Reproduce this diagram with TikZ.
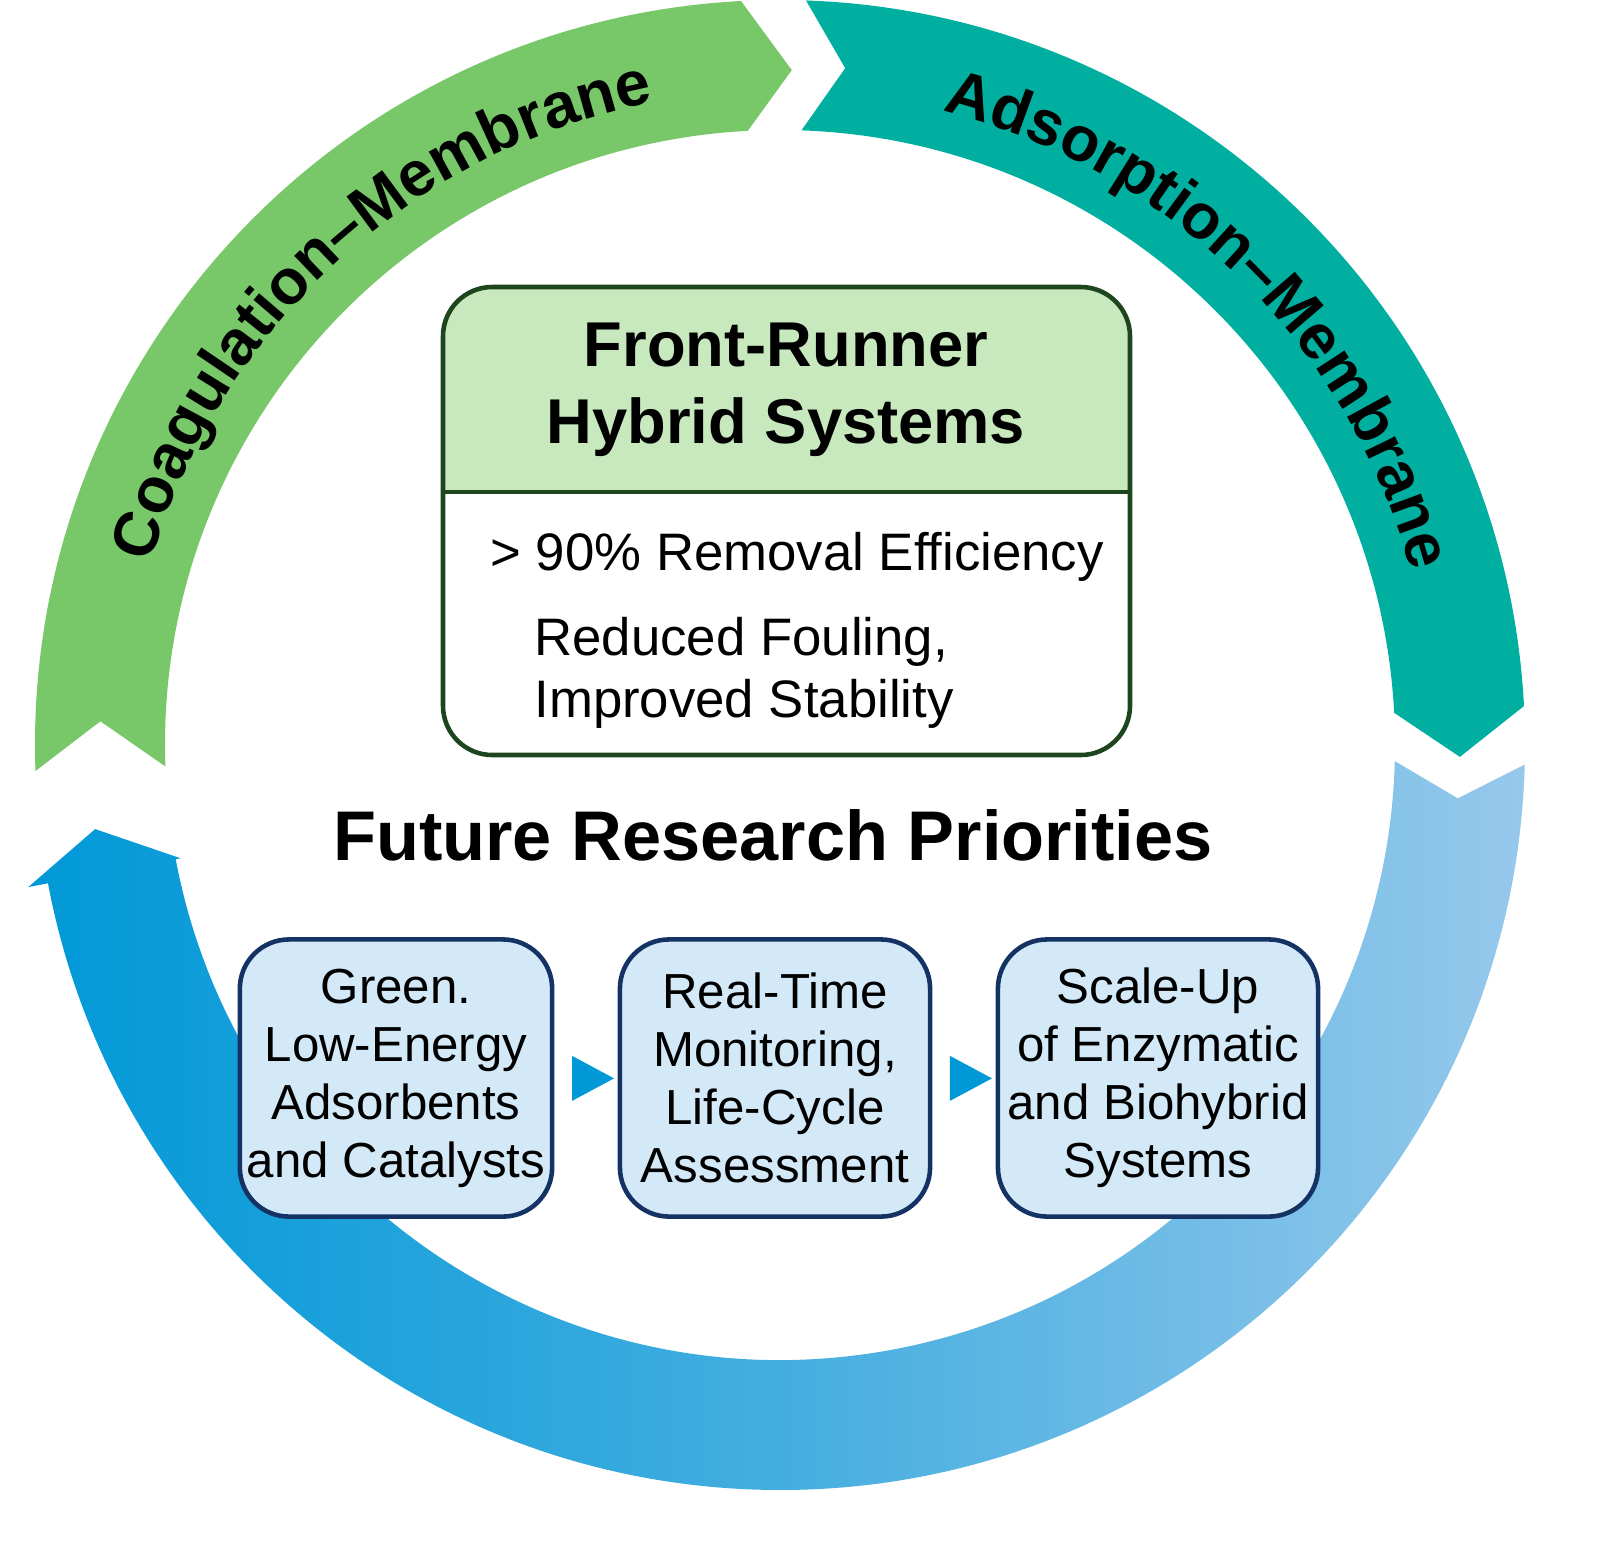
\documentclass[tikz,border=0pt]{standalone}
\usepackage{fontspec}
\setmainfont{Liberation Sans}
\usetikzlibrary{positioning,decorations.text}
\definecolor{coagreen}{RGB}{120,200,105}
\definecolor{adsteal}{RGB}{0,175,160}
\definecolor{blueD}{RGB}{0,152,215}
\definecolor{blueL}{RGB}{150,200,235}
\definecolor{hdrgreen}{RGB}{200,232,190}
\definecolor{boxgreen}{RGB}{30,70,30}
\definecolor{prioblue}{RGB}{212,233,248}
\definecolor{navy}{RGB}{20,50,100}
\tikzset{
  ringtext/.style={decorate,decoration={text along path,text align=center,
    text={|\fontsize{18}{18}\bfseries\color{black}|#1}}},
  prio/.style={draw=navy,line width=1.3pt,fill=prioblue,rounded corners=14pt,
    minimum width=3.05cm,minimum height=2.77cm,align=center,
    font=\fontsize{14}{16.5}\selectfont,inner sep=2pt},
  steparrow/.style={fill=blueD},
}
\begin{document}
\begin{tikzpicture}[x=0.01cm,y=0.01cm]
\useasboundingbox (0,0) rectangle (1612,-1542);
% ring
\begin{scope}[shift={(780,-745)}]
\fill[coagreen] (182:745) arc[start angle=182,end angle=93,radius=745] -- (89:675)
  -- (93:615) arc[start angle=93,end angle=182,radius=615] -- (178:680) -- cycle;
\fill[adsteal] (88:745) arc[start angle=88,end angle=3,radius=745] -- (-1:680)
  -- (3:615) arc[start angle=3,end angle=88,radius=615] -- (84.5:680) -- cycle;
\shade[left color=blueD,right color=blueL,middle color=blueD!55!blueL] (-1.5:745) arc[start angle=-1.5,end angle=-169.3,radius=745]
  -- (-169.3:765) -- (-173:690) -- (-169.3:610)
  -- (-169.3:615) arc[start angle=-169.3,end angle=-1.5,radius=615] -- (-4.5:680) -- cycle;
\path[ringtext={Coagulation–Membrane}] (168:655) arc[start angle=168,end angle=97,radius=655];
\path[ringtext={Adsorption–Membrane}] (80:655) arc[start angle=80,end angle=11,radius=655];
\end{scope}
% front-runner box
\begin{scope}
\clip[rounded corners=14pt] (443,-287) rectangle (1130,-755);
\fill[hdrgreen] (443,-287) rectangle (1130,-492);
\end{scope}
\draw[boxgreen,line width=1.3pt,rounded corners=14pt] (443,-287) rectangle (1130,-755);
\draw[boxgreen,line width=1.3pt] (443,-492) -- (1130,-492);
\node[align=center,font=\fontsize{18}{22}\bfseries] (hybrid) at (786,-390) {Front-Runner\\Hybrid\ Systems};
\node[anchor=west,font=\fontsize{15}{18}\selectfont] (eff) at (478,-557) {> 90\% Removal Efficiency};
\node[anchor=north west,align=left,font=\fontsize{15}{17.5}\selectfont] (foul) at (522,-605) {Reduced Fouling,\\Improved Stability};
% priorities
\node[font=\fontsize{20}{24}\bfseries] (future) at (773,-835) {Future Research Priorities};
\node[prio] (green) at (396,-1078) {Green.\\Low-Energy\\Adsorbents\\and Catalysts};
\node[prio,minimum width=3.1cm] (monitor) at (775,-1078) {Real-Time\\Monitoring,\\Life-Cycle\\Assessment};
\node[prio,minimum width=3.2cm] (scale) at (1158,-1078) {Scale-Up\\of Enzymatic\\and Biohybrid\\Systems};
\fill[steparrow] ([xshift=5pt,yshift=-6.5pt]green.east) -- ++(0,45) -- ++(42,-22.5) -- cycle;
\fill[steparrow] ([xshift=5pt,yshift=-6.5pt]monitor.east) -- ++(0,45) -- ++(42,-22.5) -- cycle;
\end{tikzpicture}
\end{document}
